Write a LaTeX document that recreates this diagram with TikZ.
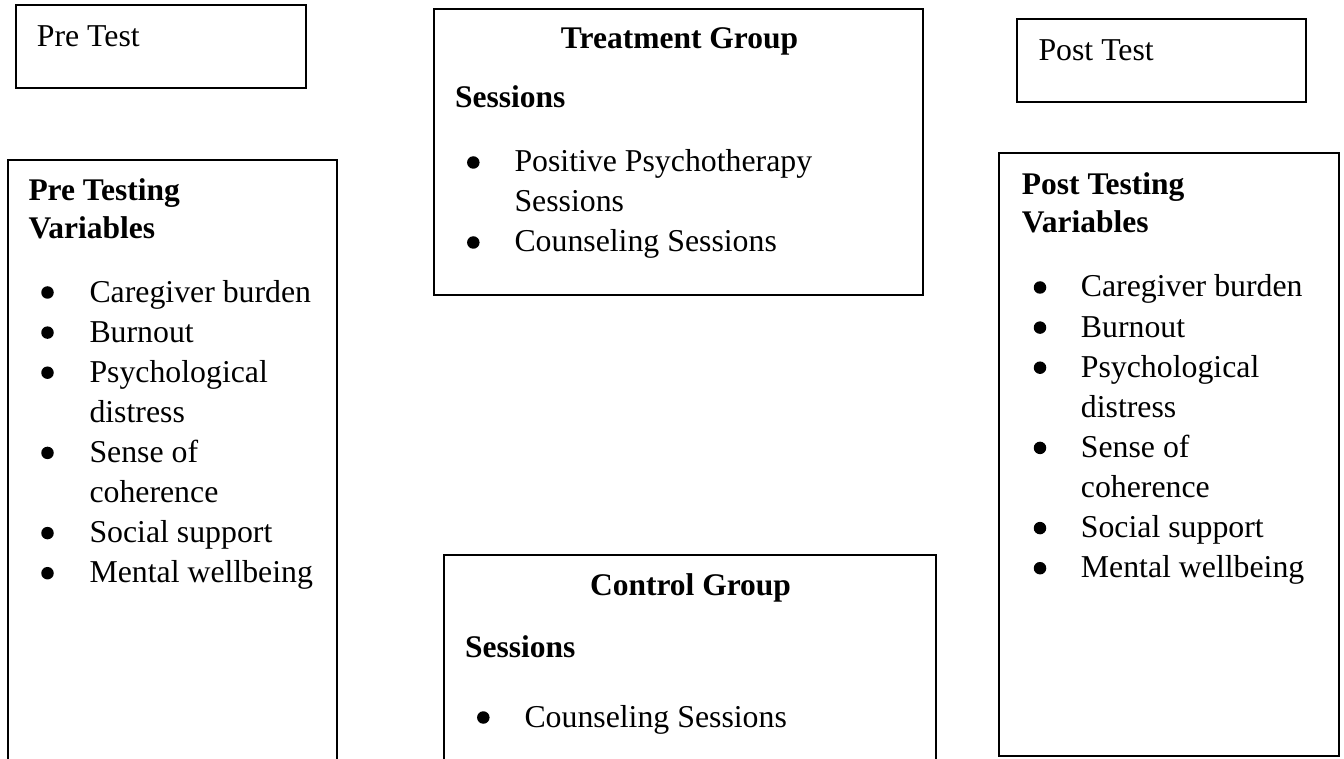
\documentclass[tikz,border=0pt]{standalone}
\usepackage{fontspec}
\setmainfont{Liberation Serif}
\begin{document}
\begin{tikzpicture}[x=1pt,y=-1pt,
  frame/.style={draw=black, line width=2pt, rectangle, inner sep=0pt},
  txt/.style={inner sep=0pt, anchor=base west, font=\fontsize{31.8}{40}\selectfont},
  head/.style={txt, font=\fontsize{31.5}{40}\selectfont\bfseries},
  ctr/.style={inner sep=0pt, anchor=base, font=\fontsize{31.5}{40}\selectfont\bfseries},
  dot/.style={circle, fill=black, inner sep=0pt, minimum size=12.5pt}]
\useasboundingbox (0,0) rectangle (1344,759);
\clip (0,0) rectangle (1344,759);

% frames
\node[frame, minimum width=289.7pt, minimum height=82.7pt] (pretest) at (160.85,46.65) {};
\node[frame, minimum width=328.7pt, minimum height=640pt] (prevars) at (172.65,480) {};
\node[frame, minimum width=488.4pt, minimum height=286pt] (treat) at (678.5,152) {};
\node[frame, minimum width=491.7pt, minimum height=245.3pt] (control) at (690.15,677.35) {};
\node[frame, minimum width=289.3pt, minimum height=82.4pt] (posttest) at (1161.35,60.5) {};
\node[frame, minimum width=339.2pt, minimum height=603pt] (postvars) at (1168.9,454.5) {};

% pre test
\node[txt] (pretest-t) at (36.7,46.7) {Pre Test};
\node[head] (prevars-h1) at (28.3,201) {Pre Testing};
\node[head] (prevars-h2) at (28.3,239) {Variables};
\foreach \t [count=\i from 0] in {Caregiver burden,Burnout,Psychological,distress,Sense of,coherence,Social support,Mental wellbeing}
  \node[txt] (pre-\i) at (89.3,{302+40.1*\i}) {\t};
\foreach \i in {0,1,2,4,6,7}
  \node[dot] (preb-\i) at (47.5,{292.5+40.1*\i}) {};

% treatment group
\node[ctr] (treat-h) at (679.5,49) {Treatment Group};
\node[head] (treat-s) at (455,108) {Sessions};
\foreach \t [count=\i from 0] in {Positive Psychotherapy,Sessions,Counseling Sessions}
  \node[txt] (treat-\i) at (514.3,{172+40*\i}) {\t};
\foreach \i in {0,2}
  \node[dot] (treatb-\i) at (473.3,{162.5+40*\i}) {};

% control group
\node[ctr] (control-h) at (690.5,595) {Control Group};
\node[head] (control-s) at (465,657) {Sessions};
\node[txt] (control-0) at (524.3,727) {Counseling Sessions};
\node[dot] (controlb-0) at (483.3,717.5) {};

% post test
\node[txt] (posttest-t) at (1038.3,61) {Post Test};
\node[head] (postvars-h1) at (1021.7,195) {Post Testing};
\node[head] (postvars-h2) at (1021.7,233) {Variables};
\foreach \t [count=\i from 0] in {Caregiver burden,Burnout,Psychological,distress,Sense of,coherence,Social support,Mental wellbeing}
  \node[txt] (post-\i) at (1080.7,{297+40.1*\i}) {\t};
\foreach \i in {0,1,2,4,6,7}
  \node[dot] (postb-\i) at (1040,{287.5+40.1*\i}) {};
\end{tikzpicture}
\end{document}
